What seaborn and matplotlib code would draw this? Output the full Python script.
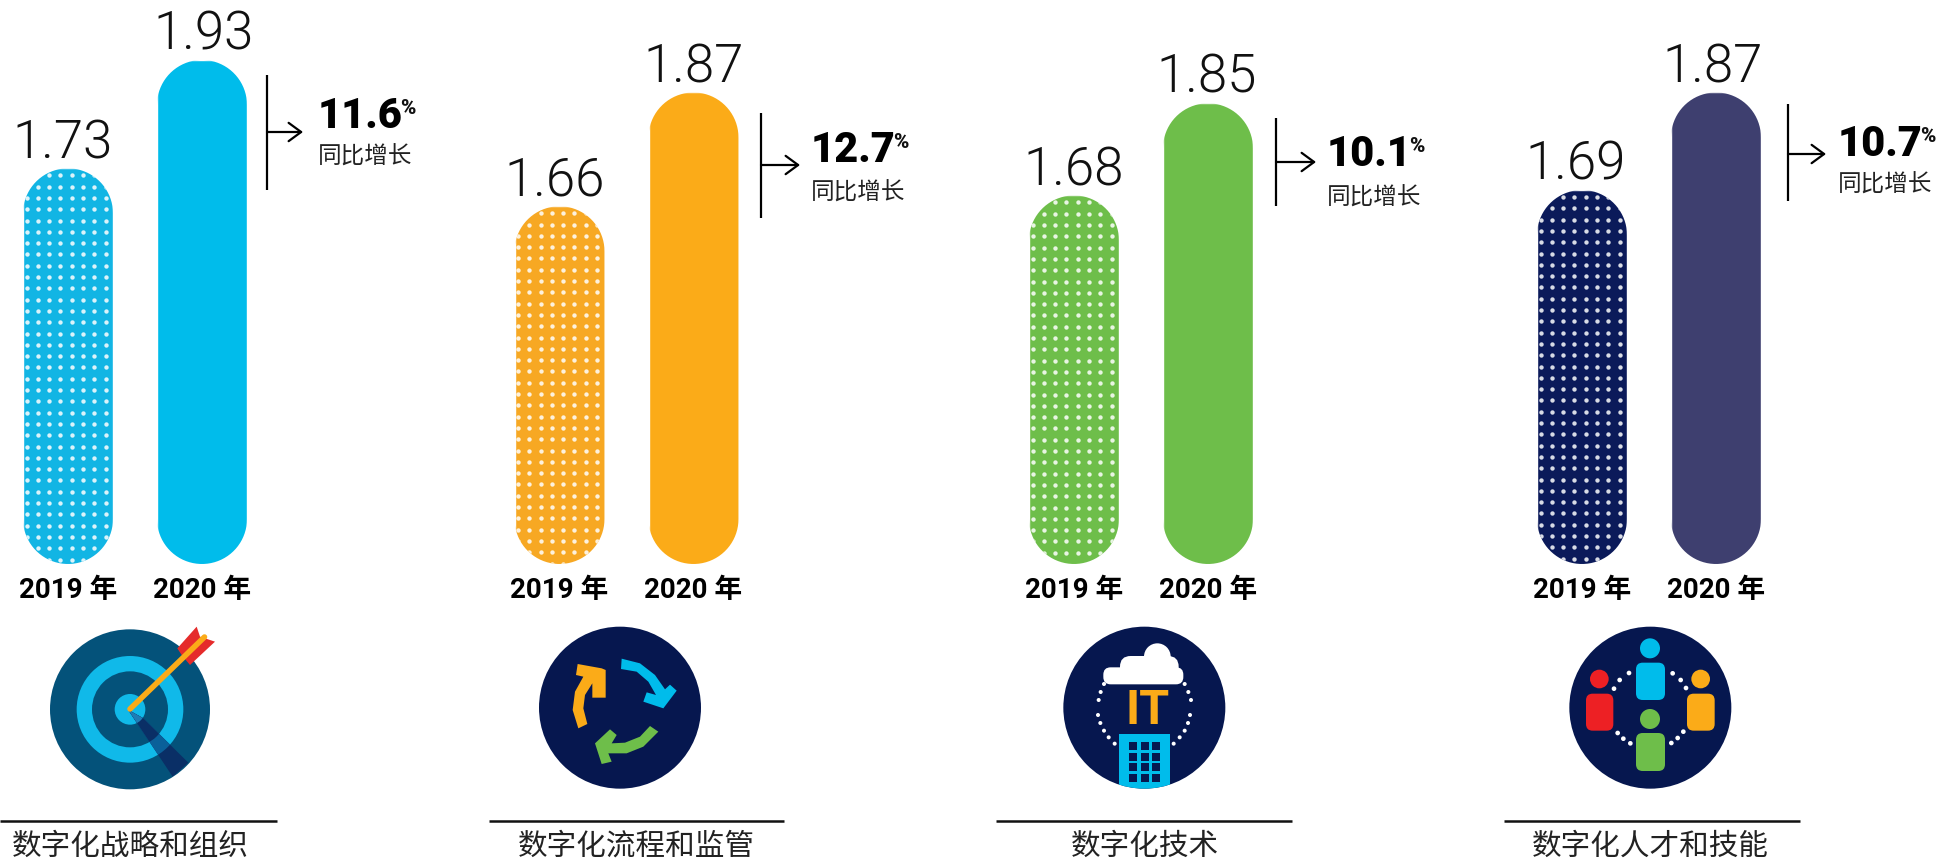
import numpy as np
import seaborn as sns
import matplotlib
matplotlib.use("Agg")
import matplotlib.pyplot as plt
from matplotlib.patches import Circle, FancyBboxPatch, Polygon, Rectangle
from matplotlib.path import Path
from matplotlib.transforms import IdentityTransform

W, H = 1943, 863

years = ["2019 年", "2020 年"]
strategy = [1.73, 1.93]
process = [1.66, 1.87]
technology = [1.68, 1.85]
talent = [1.69, 1.87]
growth = ["11.6", "12.7", "10.1", "10.7"]
growth_label = "同比增长"
titles = ["数字化战略和组织", "数字化流程和监管", "数字化技术", "数字化人才和技能"]

sns.set_theme(style="white")
plt.rcParams['font.family'] = ['Roboto', 'Noto Sans CJK SC', 'DejaVu Sans']

cjk = ['Noto Sans CJK SC', 'DejaVu Sans']
navy = "#06174f"

# bars: left edge of axes, colours, label nudge in px
panels = [
    (strategy, 1, ["#12b5e4", "#00bceb"], [-5, 2]),
    (process, 492.5, ["#f7a823", "#fbab18"], [-5, 0]),
    (technology, 1007, ["#6ebe4a", "#6ebe4a"], [0, -1]),
    (talent, 1515, ["#0b1a5a", "#3e3f6f"], [-6, -3]),
]
PX_PER_UNIT = 542
BASE_PX = 564
YMIN, YMAX = 1.0, 2.04
BAR_W = 90


def stadium(x0, y0, x1, y1):
    # bar outline with full half circles at both ends
    r = (x1 - x0) / 2
    t = np.linspace(0, np.pi, 40)
    top = np.column_stack([x0 + r + r * np.cos(t), y1 - r + r * np.sin(t)])
    bot = np.column_stack([x0 + r - r * np.cos(t), y0 + r - r * np.sin(t)])
    return Path(np.vstack([top, bot, top[:1]]), closed=True)


fig = plt.figure(figsize=(W / 100, H / 100), dpi=100, facecolor="white")

for vals, left, colors, nudge in panels:
    height = (YMAX - YMIN) * PX_PER_UNIT
    ax = fig.add_axes([left / W, (H - BASE_PX) / H, 268 / W, height / H])
    sns.barplot(x=years, y=vals, hue=years, palette=colors, saturation=1,
                width=BAR_W / 134, legend=False, ax=ax)
    ax.set_xlim(-0.5, 1.5)
    ax.set_ylim(YMIN, YMAX)
    ax.set_autoscale_on(False)
    ax.set_yticks([])
    ax.set_ylabel("")
    sns.despine(ax=ax, left=True, bottom=True)
    ax.patch.set_alpha(0)
    ax.tick_params(axis='x', length=0, pad=9.5)
    for t in ax.get_xticklabels():
        t.set_fontsize(20)
        t.set_fontweight('bold')
        t.set_color('black')

    for i, (cont, bar) in enumerate(zip(ax.containers, ax.patches)):
        x0, _ = ax.transData.transform((bar.get_x(), YMIN))
        x1, y1 = ax.transData.transform((bar.get_x() + bar.get_width(), bar.get_height()))
        y0 = ax.transData.transform((0, YMIN))[1]
        shape = stadium(x0, y0, x1, y1)
        bar.set_clip_path(shape, IdentityTransform())
        labels = ax.bar_label(cont, fmt="%.2f", padding=-0.5, fontsize=38, fontweight=300, color="#111111")
        for lab in labels:
            lab.xy = (lab.xy[0] + nudge[i] / 134, lab.xy[1])

        if i == 0:
            # white dot screen on the 2019 bars
            xs = np.arange(x0 + 3.5, x1, 11.3)
            ys = np.arange(y1 - 7, y0, -11.3)
            gx, gy = np.meshgrid(xs, ys)
            dots = ax.scatter(gx.ravel(), gy.ravel(), s=10, color="white", alpha=0.85,
                              linewidths=0, transform=IdentityTransform(), zorder=3)
            dots.set_clip_path(shape, IdentityTransform())

# overlay in pixel units for rules, notes and icons
ov = fig.add_axes([0, 0, 1, 1])
ov.set_xlim(0, W)
ov.set_ylim(H, 0)
ov.axis('off')
ov.patch.set_alpha(0)

# line x, line top, line bottom, arrow y, arrow end, text x, number y, label y
notes = [(267, 75, 190, 132, 303, 318, 116, 157), (761, 113, 218, 165, 800, 811, 151, 193),
         (1276, 118, 206, 162, 1316, 1327, 155, 198), (1788, 104, 201, 154, 1826, 1838, 144, 185)]
for (lx, y0, y1, ay, ax_end, tx, ny, sy), g in zip(notes, growth):
    ov.plot([lx, lx], [y0, y1], color="black", lw=1.6, solid_capstyle='butt')
    ov.annotate("", xy=(ax_end, ay), xytext=(lx, ay),
                arrowprops=dict(arrowstyle="->,head_length=0.75,head_width=0.55", lw=1.6,
                                color="black", shrinkA=0, shrinkB=0))
    ov.text(tx, ny, g, fontsize=30, fontweight=900, color="black", family="Roboto",
            va="center", ha="left")
    ov.text(tx + 82, ny - 8, "%", fontsize=15, fontweight=900, color="#111111", family="Roboto",
            va="center", ha="left")
    ov.text(tx, sy, growth_label, fontsize=17, color="#222222", family=cjk,
            va="center", ha="left")

rules = [(0, 277, 130), (489, 784, 636), (996, 1292, 1145), (1504, 1800, 1650)]
for x0, x1, cx in rules:
    ov.plot([x0, x1], [821, 821], color="#111111", lw=1.8, solid_capstyle='butt')
for (x0, x1, cx), title in zip(rules, titles):
    ov.text(cx, 846, title, fontsize=21.3, color="#222222", family=cjk, ha="center", va="center")


def z(pts, ox, oy):
    return [(x / 3 + ox, y / 3 + oy) for x, y in pts]


def poly(pts, ox, oy, color, zorder=3):
    p = Polygon(z(pts, ox, oy), closed=True, fc=color, ec="none", zorder=zorder)
    ov.add_patch(p)
    return p


def disc(x, y, r, ox, oy, color, zorder=3):
    c = Circle((x / 3 + ox, y / 3 + oy), r / 3, fc=color, ec="none", zorder=zorder)
    ov.add_patch(c)
    return c


def rbox(x0, y0, x1, y1, r, ox, oy, color, zorder=3):
    b = FancyBboxPatch((x0 / 3 + ox, y0 / 3 + oy), (x1 - x0) / 3, (y1 - y0) / 3,
                       boxstyle=f"round,pad=0,rounding_size={r / 3}", fc=color, ec="none", zorder=zorder)
    ov.add_patch(b)
    return b


# target icon
ox, oy = 0, 540
teal = "#04527a"
ring = "#10b9e9"
disc(390, 508, 240, ox, oy, teal, 2)
disc(390, 508, 160, ox, oy, ring)
disc(390, 508, 114, ox, oy, teal)
disc(390, 508, 46, ox, oy, ring)
shadow = [(385, 510), (430, 535), (565, 668), (518, 710)]
for r, c, zo in [(240, "#0a2f66", 3.1), (160, "#0a609a", 3.2), (114, "#0a2f66", 3.3), (46, "#1f7db5", 3.4)]:
    s = poly(shadow, ox, oy, c, zorder=zo)
    s.set_clip_path(Circle((390 / 3 + ox, 508 / 3 + oy), r / 3, transform=ov.transData))
poly([(532, 325), (590, 260), (600, 290), (645, 305), (570, 375), (545, 345)], ox, oy, "#e52b2b", zorder=4)
ov.plot([130, 204.5], [709, 637], color="#fbab18", lw=4, solid_capstyle='round', zorder=5)

# cycle icon
ox, oy = 500, 600
disc(360, 323, 243, ox, oy, navy, 2)
poly([(365, 176), (420, 190), (465, 225), (495, 268), (510, 254), (530, 272), (490, 325), (430, 305),
      (440, 277), (468, 285), (445, 245), (410, 215), (363, 207)], ox, oy, "#00bceb")
poly([(475, 395), (450, 378), (420, 410), (375, 428), (335, 430), (350, 405), (330, 388), (285, 430),
      (305, 492), (335, 485), (325, 460), (380, 460), (430, 440)], ox, oy, "#6ebe4a")
poly([(262, 372), (235, 385), (218, 330), (225, 275), (250, 230), (228, 225), (233, 192), (305, 205),
      (317, 210), (317, 293), (277, 293), (277, 250), (255, 285), (250, 325)], ox, oy, "#fbab18")

# IT icon
ox, oy = 1020, 600
disc(373, 323, 243, ox, oy, navy, 2)
disc(412, 170, 40, ox, oy, "white")
rbox(300, 168, 476, 235, 32, ox, oy, "white")
rbox(250, 202, 490, 253, 22, ox, oy, "white")
it_dots = [(252, 252), (242, 276), (236, 300), (234, 345), (241, 369), (252, 392), (266, 412), (284, 431),
           (494, 252), (505, 276), (513, 300), (510, 345), (504, 369), (494, 392), (479, 412), (461, 431)]
for x, y in it_dots:
    disc(x, y, 6, ox, oy, "white")
ov.text(382 / 3 + ox, 332 / 3 + oy, "IT", fontsize=35, fontweight='bold', color="#fbab18",
        family="Roboto", ha="center", va="center", zorder=4)
clip_it = Circle((373 / 3 + ox, 323 / 3 + oy), 243 / 3, transform=ov.transData)
tower = Rectangle((297 / 3 + ox, 403 / 3 + oy), 153 / 3, 170 / 3, fc="#00bceb", ec="none", zorder=3)
ov.add_patch(tower)
tower.set_clip_path(clip_it)
for wx in (327, 363, 396):
    for wy in (426, 458, 490, 522):
        ov.add_patch(Rectangle((wx / 3 + ox, wy / 3 + oy), 24 / 3, 24 / 3, fc=navy, ec="none", zorder=4))

# people icon
ox, oy = 1530, 600
disc(361, 323, 243, ox, oy, navy, 2)
people = [(360, 145, 30, 318, 188, 405, 300, "#00bceb"), (208, 237, 28, 168, 281, 250, 392, "#ed2024"),
          (512, 237, 28, 471, 281, 554, 392, "#fbab18"), (360, 357, 30, 318, 399, 405, 513, "#6ebe4a")]
for hx, hy, hr, bx0, by0, bx1, by1, c in people:
    disc(hx, hy, hr, ox, oy, c)
    rbox(bx0, by0, bx1, by1, 20, ox, oy, c)
team_dots = [(297, 219), (269, 240), (252, 266), (428, 220), (452, 240), (468, 264),
             (263, 399), (280, 416), (301, 430), (424, 429), (443, 414), (460, 395)]
for x, y in team_dots:
    disc(x, y, 7, ox, oy, "white")

fig.savefig("out.png", dpi=100)
